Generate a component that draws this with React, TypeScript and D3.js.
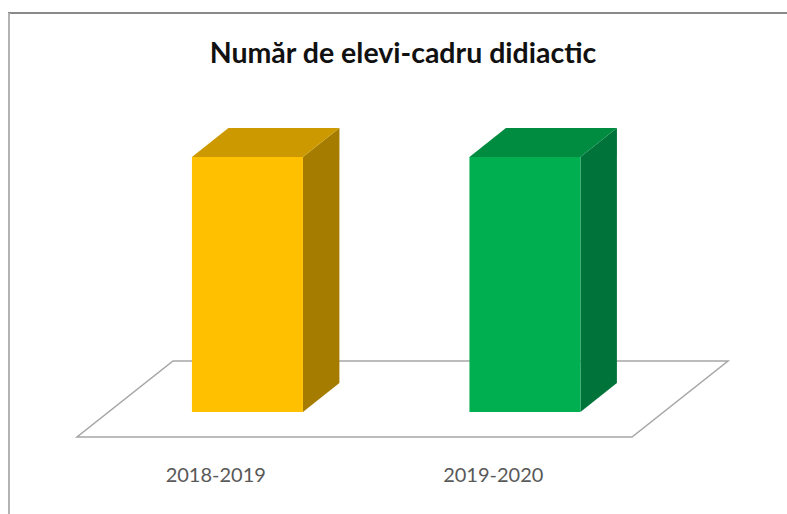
import React, { useEffect, useRef } from 'react';
import * as d3 from 'd3';

// Chart data (both columns are the same height, no value axis shown)
const categories = ['2018-2019', '2019-2020'];
const values = [12, 12];
const frontColors = ['#FFC000', '#00B050'];
const topColors = ['#CC9A00', '#008C40'];
const sideColors = ['#A67C00', '#00733A'];
const title = 'Număr de elevi-cadru didiactic';

const App: React.FC = () => {
  const svgRef = useRef<SVGSVGElement>(null);

  useEffect(() => {
    if (!svgRef.current) return;
    const svg = d3.select(svgRef.current);
    svg.selectAll('*').remove();

    const width = 787;
    const height = 514;

    // Floor geometry (oblique projection)
    const floorLeft = 77;
    const floorRight = 632;
    const floorFrontY = 437;
    const depth = { dx: 96, dy: -76 }; // full floor depth vector
    const zFront = 0.33; // bar front position in depth
    const zBack = 0.71; // bar back position in depth
    const barHeight = 255;

    const xScale = d3.scaleBand<string>()
      .domain(categories)
      .range([floorLeft, floorRight])
      .paddingInner(0.6)
      .paddingOuter(0.3);

    const yScale = d3.scaleLinear()
      .domain([0, d3.max(values) ?? 1])
      .range([0, barHeight]);

    const proj = (x: number, y: number, z: number): [number, number] => [
      x + z * depth.dx,
      y + z * depth.dy,
    ];

    // background
    svg.append('rect')
      .attr('width', width)
      .attr('height', height)
      .attr('fill', '#ffffff');

    // frame (only top and left edges visible)
    svg.append('line')
      .attr('x1', 8).attr('x2', width)
      .attr('y1', 13).attr('y2', 13)
      .attr('stroke', '#8a8a8a')
      .attr('stroke-width', 2);
    svg.append('line')
      .attr('x1', 9).attr('x2', 9)
      .attr('y1', 13).attr('y2', height)
      .attr('stroke', '#b3b3b3')
      .attr('stroke-width', 2);

    // title
    svg.append('text')
      .attr('x', 403)
      .attr('y', 63)
      .attr('text-anchor', 'middle')
      .attr('font-family', 'Lato, "Open Sans", sans-serif')
      .attr('font-weight', 'bold')
      .attr('font-size', 28.5)
      .attr('fill', '#111')
      .text(title);

    // floor
    const floorPts = [
      proj(floorLeft, floorFrontY, 0),
      proj(floorRight, floorFrontY, 0),
      proj(floorRight, floorFrontY, 1),
      proj(floorLeft, floorFrontY, 1),
    ];
    svg.append('path')
      .attr('d', d3.line()(floorPts)! + 'Z')
      .attr('fill', '#ffffff')
      .attr('stroke', '#a6a6a6')
      .attr('stroke-width', 1.5);

    // bars
    const g = svg.append('g');
    categories.forEach((c, i) => {
      const x0 = xScale(c)!;
      const x1 = x0 + xScale.bandwidth();
      const h = yScale(values[i]);
      const base = floorFrontY;

      const fBL = proj(x0, base, zFront);
      const fBR = proj(x1, base, zFront);
      const fTL = proj(x0, base - h, zFront);
      const fTR = proj(x1, base - h, zFront);
      const bBR = proj(x1, base, zBack);
      const bTL = proj(x0, base - h, zBack);
      const bTR = proj(x1, base - h, zBack);

      // side face
      g.append('path')
        .attr('d', d3.line()([fBR, bBR, bTR, fTR])! + 'Z')
        .attr('fill', sideColors[i]);
      // top face
      g.append('path')
        .attr('d', d3.line()([fTL, fTR, bTR, bTL])! + 'Z')
        .attr('fill', topColors[i]);
      // front face
      g.append('path')
        .attr('d', d3.line()([fBL, fBR, fTR, fTL])! + 'Z')
        .attr('fill', frontColors[i]);
    });

    // category labels
    svg.append('g')
      .selectAll('text')
      .data(categories)
      .join('text')
      .attr('x', d => xScale(d)! + xScale.bandwidth() / 2)
      .attr('y', 482)
      .attr('text-anchor', 'middle')
      .attr('font-family', 'Lato, "Open Sans", sans-serif')
      .attr('font-size', 20)
      .attr('fill', '#595959')
      .text(d => d);
  }, []);

  return (
    <div style={{ position: 'absolute', left: 0, top: 0 }}>
      <svg ref={svgRef} width={787} height={514} style={{ display: 'block' }} />
    </div>
  );
};

export default App;
